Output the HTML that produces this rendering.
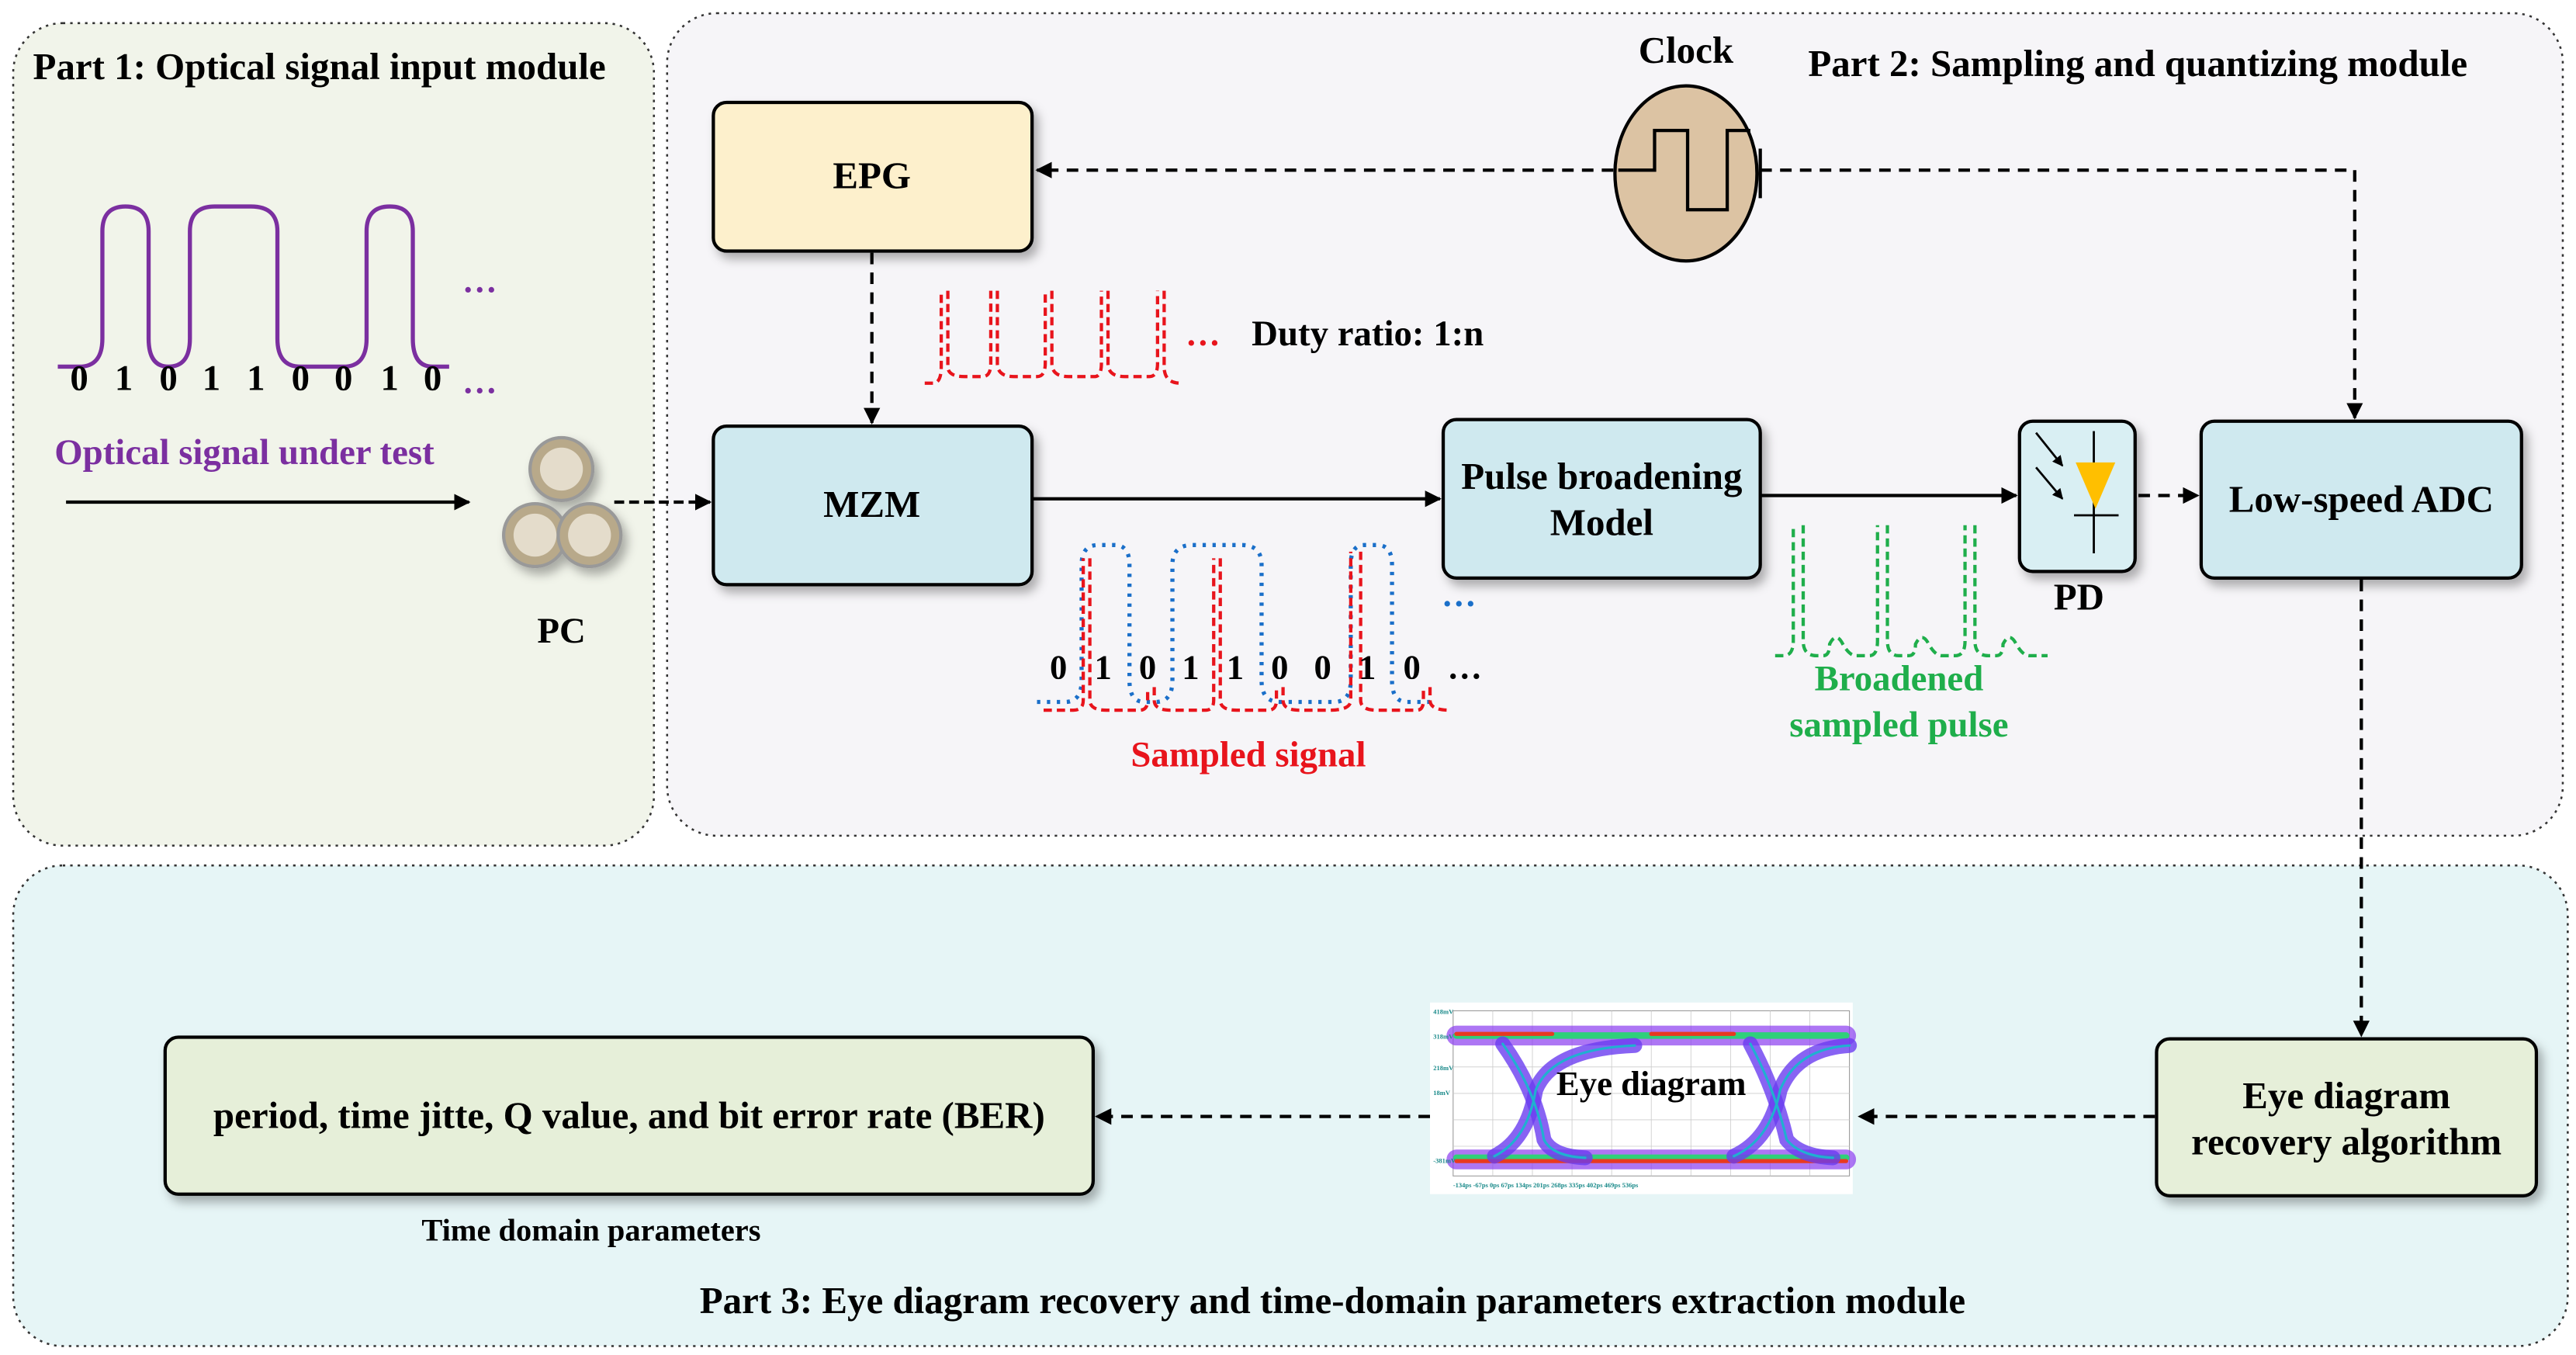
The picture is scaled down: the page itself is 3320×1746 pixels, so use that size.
<!DOCTYPE html>
<html><head><meta charset="utf-8"><style>
html,body{margin:0;padding:0;background:#fff}
svg{display:block}
text{font-family:"Liberation Serif",serif;font-weight:bold}
</style></head><body>
<svg width="3320" height="1746" viewBox="0 0 1560 820.4" preserveAspectRatio="none" xmlns="http://www.w3.org/2000/svg">
<defs>
<marker id="ah" viewBox="0 0 10 10" refX="9" refY="5" markerWidth="5" markerHeight="5" orient="auto"><path d="M0,0 L10,5 L0,10 z" fill="#000"/></marker>
<filter id="sh" x="-20%" y="-20%" width="150%" height="150%"><feDropShadow dx="3" dy="4" stdDeviation="3" flood-color="#000" flood-opacity="0.3"/></filter>
</defs>
<rect x="0" y="0" width="1560" height="821" fill="#fff"/>
<rect x="8" y="14" width="388" height="498" rx="30" fill="#f1f4ea" stroke="#333" stroke-width="1.2" stroke-dasharray="1.5,3"/>
<rect x="404" y="8" width="1148" height="498" rx="30" fill="#f6f5f8" stroke="#333" stroke-width="1.2" stroke-dasharray="1.5,3"/>
<rect x="8" y="524" width="1547" height="291" rx="30" fill="#e6f5f6" stroke="#333" stroke-width="1.2" stroke-dasharray="1.5,3"/>
<text x="20" y="48" font-size="23">Part 1: Optical signal input module</text>
<text x="1095" y="46" font-size="23">Part 2: Sampling and quantizing module</text>
<text x="807" y="795" font-size="23" text-anchor="middle">Part 3: Eye diagram recovery and time-domain parameters extraction module</text>
<path d="M35,222 H48 Q62,222 62,205 V140 Q62,125 76,125 Q90,125 90,140 V205 Q90,222 102,222 Q115,222 115,205 V140 Q115,125 130,125 H152 Q168,125 168,140 V205 Q168,222 182,222 H208 Q222,222 222,205 V140 Q222,125 236,125 Q250,125 250,140 V205 Q250,222 262,222 H272" fill="none" stroke="#7b2fa0" stroke-width="2.5"/>
<text x="280" y="177" font-size="21" fill="#7b2fa0">…</text>
<text x="280" y="238" font-size="21" fill="#7b2fa0">…</text>
<g font-size="22" text-anchor="middle"><text x="48" y="236">0</text><text x="75" y="236">1</text><text x="102" y="236">0</text><text x="128" y="236">1</text><text x="155" y="236">1</text><text x="182" y="236">0</text><text x="208" y="236">0</text><text x="236" y="236">1</text><text x="262" y="236">0</text></g>
<text x="148" y="281" font-size="22" fill="#7b2fa0" text-anchor="middle">Optical signal under test</text>
<line x1="40" y1="304" x2="284" y2="304" stroke="#000" stroke-width="2" marker-end="url(#ah)"/>
<line x1="372" y1="304" x2="430" y2="304" stroke="#000" stroke-width="2" stroke-dasharray="6,3" marker-end="url(#ah)"/>
<g filter="url(#sh)">
<circle cx="340" cy="284" r="19" fill="#b8a98a" stroke="#999" stroke-width="2"/>
<circle cx="324" cy="324" r="19" fill="#b8a98a" stroke="#999" stroke-width="2"/>
<circle cx="357" cy="324" r="19" fill="#b8a98a" stroke="#999" stroke-width="2"/>
</g>
<circle cx="340" cy="284" r="13" fill="#e4dccb"/><circle cx="324" cy="324" r="13" fill="#e4dccb"/><circle cx="357" cy="324" r="13" fill="#e4dccb"/>
<text x="340" y="389" font-size="22" text-anchor="middle">PC</text>
<g stroke="#000" stroke-width="2" filter="url(#sh)">
<rect x="432" y="62" width="193" height="90" rx="8" fill="#fdf0cc"/>
<rect x="432" y="258" width="193" height="96" rx="8" fill="#cfe9ef"/>
<rect x="874" y="254" width="192" height="96" rx="8" fill="#cfe9ef"/>
<rect x="1223" y="255" width="70" height="91" rx="8" fill="#d9eff3"/>
<rect x="1333" y="255" width="194" height="95" rx="8" fill="#cfe9ef"/>
<rect x="1306" y="629" width="230" height="95" rx="8" fill="#e6efd9"/>
<rect x="100" y="628" width="562" height="95" rx="8" fill="#e6efd9"/>
</g>
<g font-size="23" text-anchor="middle">
<text x="528" y="114">EPG</text>
<text x="528" y="313">MZM</text>
<text x="970" y="296">Pulse broadening</text>
<text x="970" y="324">Model</text>
<text x="1430" y="310">Low-speed ADC</text>
<text x="1421" y="671">Eye diagram</text>
<text x="1421" y="699">recovery algorithm</text>
<text x="381" y="683">period, time jitte, Q value, and bit error rate (BER)</text>
<text x="1259" y="369">PD</text>
</g>
<text x="358" y="751" font-size="19" text-anchor="middle">Time domain parameters</text>
<line x1="1233" y1="262" x2="1249" y2="282" stroke="#000" stroke-width="1.3" marker-end="url(#ah)"/>
<line x1="1233" y1="283" x2="1249" y2="302" stroke="#000" stroke-width="1.3" marker-end="url(#ah)"/>
<line x1="1268" y1="261" x2="1268" y2="335" stroke="#000" stroke-width="1.3"/>
<path d="M1257,280 L1281,280 L1269,308 z" fill="#ffbf00"/>
<line x1="1256" y1="312" x2="1283" y2="312" stroke="#000" stroke-width="1.3"/>
<text x="1021" y="38" font-size="23" text-anchor="middle">Clock</text>
<ellipse cx="1021" cy="105" rx="43" ry="53" fill="#dcc3a3" stroke="#000" stroke-width="2"/>
<path d="M980,103 H1002 V79 H1022 V127 H1046 V79 H1060" fill="none" stroke="#000" stroke-width="2"/>
<line x1="1066" y1="90" x2="1066" y2="120" stroke="#000" stroke-width="2"/>
<g stroke="#000" stroke-width="2" fill="none">
<line x1="977" y1="103" x2="628" y2="103" stroke-dasharray="7,5" marker-end="url(#ah)"/>
<path d="M1066,103 H1426 V253" stroke-dasharray="7,5" marker-end="url(#ah)"/>
<line x1="528" y1="153" x2="528" y2="256" stroke-dasharray="7,5" marker-end="url(#ah)"/>
<line x1="625" y1="302" x2="872" y2="302" marker-end="url(#ah)"/>
<line x1="1066" y1="300" x2="1221" y2="300" marker-end="url(#ah)"/>
<line x1="1295" y1="300" x2="1331" y2="300" stroke-dasharray="7,5" marker-end="url(#ah)"/>
<line x1="1430" y1="351" x2="1430" y2="627" stroke-dasharray="7,5" marker-end="url(#ah)"/>
<line x1="1305" y1="676" x2="1126" y2="676" stroke-dasharray="7,5" marker-end="url(#ah)"/>
<line x1="866" y1="676" x2="664" y2="676" stroke-dasharray="7,5" marker-end="url(#ah)"/>
</g>
<path d="M560,232 H565 Q570,232 570,222 V176 M574,176 V222 Q574,228 584,228 H595 Q600,228 600,220 V176 M604,176 V220 Q604,228 614,228 H628 Q633,228 633,220 V176 M637,176 V220 Q637,228 647,228 H663 Q667,228 667,220 V176 M671,176 V220 Q671,228 681,228 H696 Q701,228 701,220 V176 M705,176 V222 Q705,232 715,232" fill="none" stroke="#e8141c" stroke-width="2" stroke-dasharray="5,3"/>
<text x="718" y="209" font-size="21" fill="#e8141c">…</text>
<text x="758" y="209" font-size="22">Duty ratio: 1:n</text>
<path d="M628,425 H645 Q655,425 655,412 V342 Q655,330 665,330 H675 Q684,330 684,342 V412 Q684,425 693,425 H700 Q710,425 710,412 V342 Q710,330 722,330 H752 Q764,330 764,342 V412 Q764,425 775,425 H808 Q818,425 818,412 V342 Q818,330 826,330 H834 Q843,330 843,342 V412 Q843,425 852,425 H866" fill="none" stroke="#1a6fc9" stroke-width="2.5" stroke-dasharray="2,4"/>
<text x="873" y="367" font-size="21" fill="#1a6fc9">…</text>
<path d="M632,430 H650 Q656,430 656,424 V338 M660,338 V424 Q660,430 670,430 H690 Q695,430 695,424 V416 M699,416 V424 Q699,430 709,430 H730 Q735,430 735,424 V338 M739,338 V424 Q739,430 749,430 H768 Q773,430 773,424 V416 M777,416 V424 Q777,430 787,430 H805 Q818,430 818,424 V334 M824,334 V424 Q824,430 834,430 H858 Q862,430 862,424 V416 M866,416 V424 Q866,430 878,430" fill="none" stroke="#e8141c" stroke-width="2" stroke-dasharray="5,3"/>
<g font-size="21" text-anchor="middle"><text x="641" y="411">0</text><text x="668" y="411">1</text><text x="695" y="411">0</text><text x="721" y="411">1</text><text x="748" y="411">1</text><text x="775" y="411">0</text><text x="801" y="411">0</text><text x="828" y="411">1</text><text x="855" y="411">0</text><text x="887" y="411">…</text></g>
<text x="756" y="464" font-size="22" fill="#e8141c" text-anchor="middle">Sampled signal</text>
<path d="M1075,397 H1080 Q1086,397 1086,388 V318 M1092,318 V388 Q1092,397 1100,397 H1104 Q1108,397 1108,390 Q1112,382 1116,390 Q1120,397 1124,397 H1132 Q1137,397 1137,388 V318 M1143,318 V388 Q1143,397 1150,397 H1156 Q1160,397 1160,390 Q1164,382 1168,390 Q1172,397 1176,397 H1184 Q1190,397 1190,388 V318 M1196,318 V388 Q1196,397 1204,397 H1209 Q1213,397 1213,390 Q1217,382 1221,390 Q1225,397 1229,397 H1240" fill="none" stroke="#1fae4b" stroke-width="2" stroke-dasharray="5,3"/>
<text x="1150" y="418" font-size="22" fill="#1fae4b" text-anchor="middle">Broadened</text>
<text x="1150" y="446" font-size="22" fill="#1fae4b" text-anchor="middle">sampled pulse</text>
<rect x="866" y="607" width="256" height="116" fill="#fff"/>
<rect x="880" y="612" width="240" height="100" fill="#fff" stroke="#999" stroke-width="0.5"/>
<g stroke="#ccc" stroke-width="0.4">
<line x1="880" y1="627" x2="1120" y2="627"/><line x1="880" y1="646" x2="1120" y2="646"/><line x1="880" y1="662" x2="1120" y2="662"/><line x1="880" y1="678" x2="1120" y2="678"/><line x1="880" y1="694" x2="1120" y2="694"/>
<line x1="904" y1="612" x2="904" y2="712"/><line x1="928" y1="612" x2="928" y2="712"/><line x1="952" y1="612" x2="952" y2="712"/><line x1="976" y1="612" x2="976" y2="712"/><line x1="1000" y1="612" x2="1000" y2="712"/><line x1="1024" y1="612" x2="1024" y2="712"/><line x1="1048" y1="612" x2="1048" y2="712"/><line x1="1072" y1="612" x2="1072" y2="712"/><line x1="1096" y1="612" x2="1096" y2="712"/>
</g>
<g fill="none" stroke-linecap="round">
<path d="M882,627 H1118" stroke="#8a3cf0" stroke-width="12" stroke-opacity="0.7"/>
<path d="M882,627 H1118" stroke="#2fd07a" stroke-width="4"/>
<path d="M882,626 H940 M1000,626 H1050" stroke="#e83a20" stroke-width="2.5"/>
<path d="M882,702 H1118" stroke="#8a3cf0" stroke-width="12" stroke-opacity="0.7"/>
<path d="M882,701 H1118" stroke="#2fd07a" stroke-width="4"/>
<path d="M882,703 H1118" stroke="#e83a20" stroke-width="2.5"/>
<path d="M910,632 Q930,660 935,690 Q940,700 960,701" stroke="#6a3cf0" stroke-width="9" stroke-opacity="0.8"/>
<path d="M905,700 Q925,690 930,660 Q940,635 990,633" stroke="#6a3cf0" stroke-width="9" stroke-opacity="0.8"/>
<path d="M1060,632 Q1075,660 1082,690 Q1090,700 1110,701" stroke="#6a3cf0" stroke-width="9" stroke-opacity="0.8"/>
<path d="M1050,700 Q1072,690 1078,660 Q1088,635 1120,633" stroke="#6a3cf0" stroke-width="9" stroke-opacity="0.8"/>
<path d="M910,632 Q930,660 935,690 Q940,700 960,701 M905,700 Q925,690 930,660 Q940,635 990,633 M1060,632 Q1075,660 1082,690 Q1090,700 1110,701 M1050,700 Q1072,690 1078,660 Q1088,635 1120,633" stroke="#20b0d0" stroke-width="1.5"/>
</g>
<g font-size="4" fill="#1a8a8a" font-weight="normal"><text x="868" y="614">418mV</text><text x="868" y="629">318mV</text><text x="868" y="648">218mV</text><text x="868" y="663">18mV</text><text x="868" y="704">-381mV</text><text x="880" y="719">-134ps      -67ps      0ps      67ps      134ps      201ps      268ps      335ps      402ps      469ps      536ps</text></g>
<text x="1000" y="663" font-size="21" text-anchor="middle">Eye diagram</text>
</svg>
</body></html>
